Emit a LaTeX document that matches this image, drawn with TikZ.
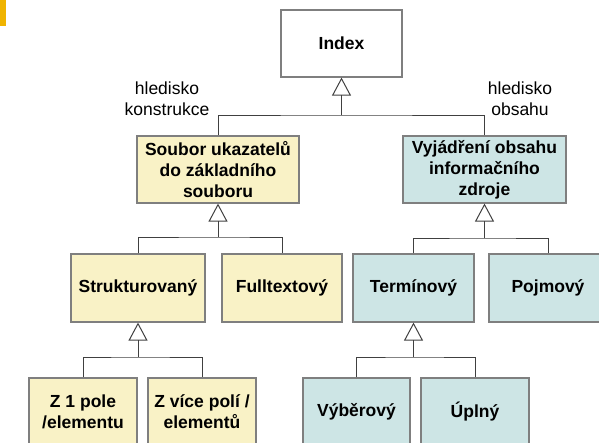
\documentclass[tikz,border=0pt]{standalone}
\usepackage{fontspec}
\setmainfont{Liberation Sans}
\usetikzlibrary{arrows.meta}
\definecolor{boxyellow}{HTML}{F9F2C6}
\definecolor{boxteal}{HTML}{CDE5E5}
\definecolor{boxedge}{HTML}{7F7F7F}
\definecolor{linegray}{HTML}{404040}
\definecolor{barorange}{HTML}{F0B400}
\tikzset{
  box/.style={draw=boxedge, line width=1.2pt, inner sep=0pt, align=center,
    font=\fontsize{17.5}{21}\selectfont\bfseries},
  ybox/.style={box, fill=boxyellow},
  tbox/.style={box, fill=boxteal},
  wbox/.style={box, fill=white},
  conn/.style={draw=linegray, line width=1pt},
  gen/.style={conn, -{Triangle[open, width=19pt, length=18pt]}},
  lbl/.style={align=center, inner sep=0pt, font=\fontsize{17.5}{21}\selectfont}
}
\begin{document}
\begin{tikzpicture}[x=1pt,y=-1pt]
\useasboundingbox (0,0) rectangle (599,442);
\clip (0,0) rectangle (599,442);
\fill[barorange] (0,0) rectangle (6,26);

\node[wbox, minimum width=121pt, minimum height=67pt] (idx) at (341.5,43.5) {Index};
\node[ybox, minimum width=162pt, minimum height=67pt] (soub) at (218,169.5) {Soubor ukazatelů\\do základního\\souboru};
\node[tbox, minimum width=163pt, minimum height=67pt] (vyj) at (484.5,169.5) {Vyjádření obsahu\\informačního\\zdroje};

\node[ybox, minimum width=134pt, minimum height=68pt] (str) at (138,288) {Strukturovaný};
\node[ybox, minimum width=120pt, minimum height=68pt] (ful) at (282,288) {Fulltextový};
\node[tbox, minimum width=121pt, minimum height=68pt] (ter) at (413.5,288) {Termínový};
\node[tbox, minimum width=118pt, minimum height=68pt] (poj) at (548,288) {Pojmový};

\node[ybox, minimum width=108pt, minimum height=68pt] (z1) at (83,412) {Z 1 pole\\/elementu};
\node[ybox, minimum width=108pt, minimum height=68pt] (zv) at (202,412) {Z více polí /\\elementů};
\node[tbox, minimum width=107pt, minimum height=68pt] (vyb) at (356.5,412) {Výběrový};
\node[tbox, minimum width=108pt, minimum height=68pt] (upl) at (475,412) {Úplný};

\node[lbl] (lk) at (167,99) {hledisko\\konstrukce};
\node[lbl] (lo) at (520,99) {hledisko\\obsahu};

\coordinate (j1) at (341.5,115);
\coordinate (j2) at (218,237);
\coordinate (j3) at (484.5,238);
\coordinate (j4) at (138,357);
\coordinate (j5) at (413.5,357);

\draw[conn] (soub.north) |- (j1) -| (vyj.north);
\draw[gen] (j1) -- (idx.south);
\draw[conn] (str.north) |- (j2) -| (ful.north);
\draw[gen] (j2) -- (soub.south);
\draw[conn] (ter.north) |- (j3) -| (poj.north);
\draw[gen] (j3) -- (vyj.south);
\draw[conn] (z1.north) |- (j4) -| (zv.north);
\draw[gen] (j4) -- (str.south);
\draw[conn] (vyb.north) |- (j5) -| (upl.north);
\draw[gen] (j5) -- (ter.south);
\end{tikzpicture}
\end{document}
